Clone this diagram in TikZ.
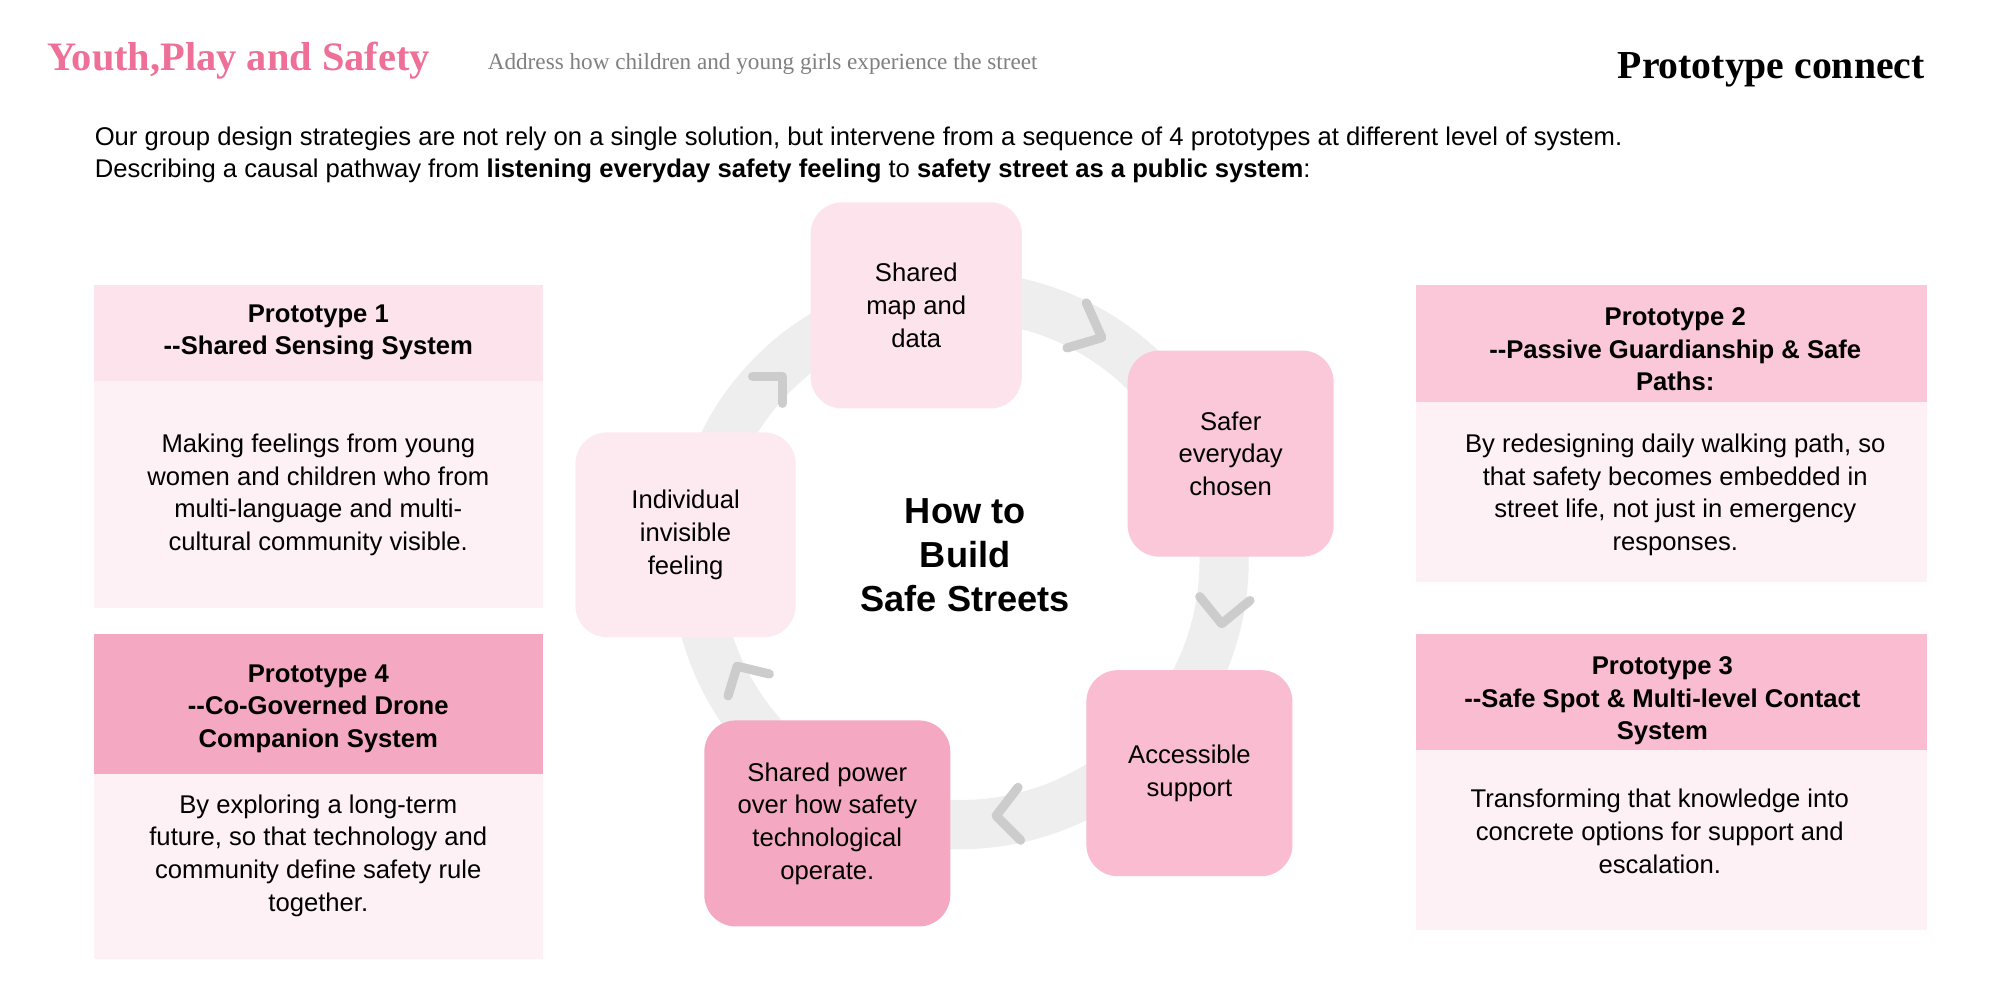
\documentclass[tikz,border=0pt]{standalone}
\usepackage{fontspec}
\setmainfont{Liberation Sans}
\newfontfamily\serif{Liberation Serif}
\begin{document}
\begin{tikzpicture}[x=0.012887cm,y=-0.012887cm,
 box/.style={rounded corners=9pt,draw=none},
 btxt/.style={align=center,font=\fontsize{7.3}{9.3}\selectfont,text=black},
 htxt/.style={align=center,font=\fontsize{7.3}{9.3}\selectfont\bfseries,text=black},
 chev/.style={draw=gray!40,line width=2.6pt,line cap=round,line join=round}]
\definecolor{pA}{HTML}{FCE3EC}\definecolor{pB}{HTML}{FAC8D9}\definecolor{pC}{HTML}{F9BCD0}
\definecolor{pD}{HTML}{F5A8C2}\definecolor{pE}{HTML}{FDEAF0}\definecolor{pL}{HTML}{FDF1F5}
\definecolor{ttl}{HTML}{EE6F98}
\useasboundingbox (0,0) rectangle (1552,776);
\fill[white] (0,0) rectangle (1552,776);
% header
\node[anchor=base west,text=ttl,font=\serif\fontsize{11.5}{12}\selectfont\bfseries,inner sep=0] (ttl) at (36,55) {Youth,Play and Safety};
\node[anchor=base west,text=gray,font=\serif\fontsize{6.6}{8}\selectfont,inner sep=0] (sub) at (378,54) {Address how children and young girls experience the street};
\node[anchor=base east,font=\serif\fontsize{11.3}{14}\selectfont\bfseries,inner sep=0] (pc) at (1494,61) {Prototype connect};
\node[anchor=north west,align=left,font=\fontsize{7.3}{9.2}\selectfont,inner sep=0] (intro) at (73,98)
 {Our group design strategies are not rely on a single solution, but intervene from a sequence of 4 prototypes at different level of system.\\
 Describing a causal pathway from \textbf{listening everyday safety feeling} to \textbf{safety street as a public system}:};
% ring
\draw[gray!13,line width=14pt] (745,435) circle [radius=205*0.12887mm];
% chevrons
\draw[chev] (843,235) -- (855,262) -- (828,270);
\draw[chev] (931,463) -- (948,484) -- (970,466);
\draw[chev] (790,611) -- (773,633) -- (792,652);
\draw[chev] (565,540) -- (572,517) -- (597,523);
\draw[chev] (584,292) -- (607,292) -- (607,313);
% cycle boxes
\node[box,fill=pA,minimum width=164*0.12887mm,minimum height=160*0.12887mm] (b1) at (711,237) {};
\node[btxt] at (b1) {Shared\\map and\\data};
\node[box,fill=pB,minimum width=160*0.12887mm,minimum height=160*0.12887mm] (b2) at (955,352) {};
\node[btxt] at (b2) {Safer\\everyday\\chosen};
\node[box,fill=pC,minimum width=160*0.12887mm,minimum height=160*0.12887mm] (b3) at (923,600) {};
\node[btxt] at (b3) {Accessible\\support};
\node[box,fill=pD,minimum width=191*0.12887mm,minimum height=160*0.12887mm] (b4) at (642,639) {};
\node[btxt] at (b4) {Shared power\\over how safety\\technological\\operate.};
\node[box,fill=pE,minimum width=171*0.12887mm,minimum height=159*0.12887mm] (b5) at (532,415) {};
\node[btxt] at (b5) {Individual\\invisible\\feeling};
\node[align=center,font=\fontsize{10.3}{12.6}\selectfont\bfseries] (ctr) at (749,431) {How to\\Build\\Safe Streets};
% left panels
\fill[pL] (73,296) rectangle (421,472);
\fill[pA] (73,221) rectangle (421,296);
\node[htxt] (h1) at (247,258) {Prototype 1\\{-}{-}Shared Sensing System};
\node[btxt] (t1) at (247,384) {Making feelings from young\\women and children who from\\multi-language and multi-\\cultural community visible.};
\fill[pL] (73,601) rectangle (421,744);
\fill[pD] (73,492) rectangle (421,601);
\node[htxt] (h4) at (247,550) {Prototype 4\\{-}{-}Co-Governed Drone\\Companion System};
\node[btxt] (t4) at (247,664) {By exploring a long-term\\future, so that technology and\\community define safety rule\\together.};
% right panels
\fill[pL] (1099,312) rectangle (1495,452);
\fill[pB] (1099,221) rectangle (1495,312);
\node[htxt] (h2) at (1300,271) {Prototype 2\\{-}{-}Passive Guardianship \& Safe\\Paths:};
\node[btxt] (t2) at (1300,384) {By redesigning daily walking path, so\\that safety becomes embedded in\\street life, not just in emergency\\responses.};
\fill[pL] (1099,582) rectangle (1495,722);
\fill[pC] (1099,492) rectangle (1495,582);
\node[htxt] (h3) at (1290,544) {Prototype 3\\{-}{-}Safe Spot \& Multi-level Contact\\System};
\node[btxt] (t3) at (1288,645) {Transforming that knowledge into\\concrete options for support and\\escalation.};
\end{tikzpicture}
\end{document}
